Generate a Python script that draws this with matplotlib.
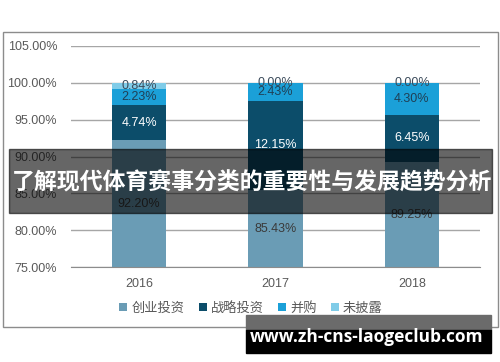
"""
Stacked share of investment types, 2016-2018.
"""

import matplotlib
matplotlib.use("Agg")
from matplotlib import pyplot as plt
from matplotlib.patches import Rectangle

plt.rcParams['font.family'] = ['Liberation Sans', 'Noto Sans CJK SC', 'DejaVu Sans']

YEARS = ["2016", "2017", "2018"]
SERIES = ["创业投资", "战略投资", "并购", "未披露"]
VENTURE = [92.20, 85.43, 89.25]
STRATEGIC = [4.74, 12.15, 6.45]
MERGER = [2.23, 2.43, 4.30]
UNDISCLOSED = [0.84, 0.00, 0.00]
YTICKS = [75, 80, 85, 90, 95, 100, 105]

COLORS = ["#6a9cb5", "#0c4d6a", "#1ba0d8", "#80cce8"]
LABEL_COLORS = ["#3a3a3a", "#ffffff", "#1f3f55", "#3a4a5a"]
TEXT = "#595959"

W, H = 500, 362
fig = plt.figure(figsize=(W / 100, H / 100), dpi=100)

# outer frame
fig.patches.append(Rectangle((3 / W, 1 - 327 / H), 495 / W, 295 / H,
                             transform=fig.transFigure, fill=False,
                             edgecolor="#8c8c8c", linewidth=1))

ax = fig.add_axes([71 / W, 1 - 267 / H, 409 / W, 221 / H])
x = range(len(YEARS))
bottom = [0.0] * len(YEARS)
for name, values, color, lcolor in zip(SERIES, [VENTURE, STRATEGIC, MERGER, UNDISCLOSED],
                                       COLORS, LABEL_COLORS):
    ax.bar(x, values, bottom=bottom, width=0.4, color=color, label=name, zorder=2)
    for i, v in enumerate(values):
        lo = max(bottom[i], 75)
        hi = bottom[i] + v
        ax.text(i, (lo + hi) / 2, f"{v:.2f}%", ha="center", va="center",
                fontsize=9, color=lcolor, zorder=3)
    bottom = [b + v for b, v in zip(bottom, values)]

ax.set_ylim(75, 105)
ax.set_xlim(-0.5, 2.5)
ax.set_yticks(YTICKS)
ax.set_yticklabels([f"{t:.2f}%" for t in YTICKS])
ax.set_xticks(list(x))
ax.set_xticklabels(YEARS)
ax.tick_params(length=0, labelsize=9, colors=TEXT)
ax.tick_params(axis="y", pad=10)
ax.tick_params(axis="x", pad=8)
ax.yaxis.grid(True, color="#a6a6a6", linewidth=1, zorder=0)
for side in ["left", "right", "top"]:
    ax.spines[side].set_visible(False)
ax.spines["bottom"].set_color("#8c8c8c")

handles, labels = ax.get_legend_handles_labels()
fig.legend(handles, labels, loc="center", bbox_to_anchor=(251 / W, 1 - 308 / H),
           ncol=4, frameon=False, handlelength=0.6, handleheight=0.6,
           handletextpad=0.3, columnspacing=1.1, labelcolor=TEXT,
           prop={'family': ['Noto Sans CJK SC', 'DejaVu Sans'], 'size': 9.5})

# overlay banner
fig.patches.append(Rectangle((9 / W, 1 - 213 / H), 483 / W, 64 / H,
                             transform=fig.transFigure, color="black",
                             alpha=0.6, zorder=10))
fig.text(252 / W, 1 - 183 / H, "了解现代体育赛事分类的重要性与发展趋势分析",
         ha="center", va="center", color="white", fontsize=16.5,
         fontweight="bold", family=['Noto Sans CJK SC', 'DejaVu Sans'], zorder=11)

# watermark
fig.patches.append(Rectangle((246 / W, 1 - 330 / H), 245 / W, 15 / H,
                             transform=fig.transFigure, color="#6b6b6b", zorder=10))
fig.patches.append(Rectangle((246 / W, 1 - 353 / H), 245 / W, 23 / H,
                             transform=fig.transFigure, color="black", zorder=10))
fig.text(367 / W, 1 - 337 / H, "www.zh-cns-laogeclub.com", ha="center",
         va="center", color="white", fontsize=12.5, fontweight="bold",
         family=['Open Sans', 'DejaVu Sans'], zorder=11)

fig.savefig("out.png", dpi=100)
